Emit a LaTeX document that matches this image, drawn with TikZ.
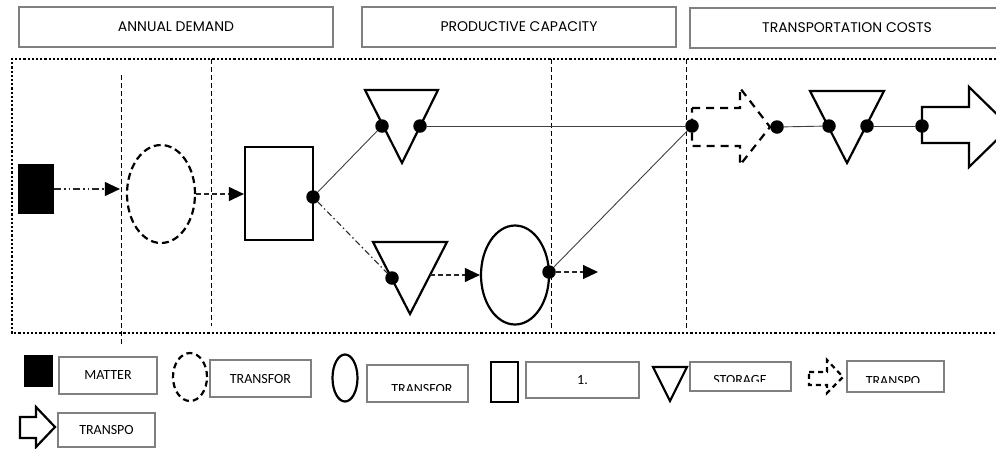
\documentclass[tikz,border=0pt]{standalone}
\usepackage{fontspec}
\setmainfont{Carlito}
\newfontfamily\gothic{Poppins}
\usetikzlibrary{arrows.meta,shapes.geometric}
\begin{document}
\begin{tikzpicture}[x=1pt,y=-1pt,
  thickshape/.style={draw=black,line width=2.2pt,line join=miter},
  dot/.style={circle,fill=black,inner sep=0pt,minimum size=13.5pt},
  headbox/.style={draw=black!50,line width=1.4pt,inner sep=0pt,font=\gothic\fontsize{14}{16}\selectfont},
  legbox/.style={draw=black!50,line width=1.4pt,inner sep=0pt,font=\fontsize{14}{16}\selectfont},
  legtext/.style={inner sep=0pt,font=\fontsize{14}{16}\selectfont},
  conn/.style={draw=black!75,line width=0.9pt},
  dashconn/.style={draw=black!85,line width=1.1pt,dash pattern=on 5pt off 3pt},
  dashdotconn/.style={draw=black!85,line width=1.1pt,dash pattern=on 6pt off 3pt on 1.5pt off 3pt},
  dashdotdotconn/.style={draw=black!85,line width=1.1pt,dash pattern=on 7pt off 3pt on 1.5pt off 3pt on 1.5pt off 3pt},
  tip/.style={-{Triangle[length=15pt,width=14pt,color=black]}},
  sepline/.style={draw=black,line width=0.9pt,dash pattern=on 5pt off 3pt},
  bigdash/.style={dash pattern=on 7pt off 4pt},
]
\useasboundingbox (0,0) rectangle (996,448);
\fill[white] (0,0) rectangle (996,448);
\begin{scope}
\clip (0,0) rectangle (996,448);

% header boxes
\node[headbox,minimum width=314pt,minimum height=40pt] (h1) at (176,27) {ANNUAL DEMAND};
\node[headbox,minimum width=314pt,minimum height=40pt] (h2) at (519,27) {PRODUCTIVE CAPACITY};
\draw[draw=black!50,line width=1.4pt] (1000,8) -- (690,8) -- (690,48) -- (1000,48);
\node[inner sep=0pt,font=\gothic\fontsize{14}{16}\selectfont] (h3) at (847,28) {TRANSPORTATION COSTS};

% outer dotted frame
\draw[line width=2.4pt,dash pattern=on 2.2pt off 2pt] (1000,59) -- (12,59) -- (12,333) -- (1000,333);

% vertical separators
\draw[sepline] (121,75) -- (121,345);
\draw[sepline] (211,59) -- (211,326);
\draw[sepline] (551,59) -- (551,330);
\draw[sepline] (686,59) -- (686,330);

% main shapes
\node[fill=black,minimum width=36pt,minimum height=50pt,inner sep=0pt] (sq) at (36,189) {};
\node[ellipse,thickshape,bigdash,minimum width=68pt,minimum height=98pt,inner sep=0pt] (e1) at (161,194) {};
\node[thickshape,minimum width=68pt,minimum height=93pt,inner sep=0pt] (r1) at (279,193.5) {};
\node[ellipse,thickshape,minimum width=68pt,minimum height=99pt,inner sep=0pt] (e2) at (515,275) {};

\draw[thickshape] (365,90) -- (438,90) -- (402,163) -- cycle;
\draw[thickshape] (373,242) -- (447,242) -- (410,314) -- cycle;
\draw[thickshape] (810,91) -- (884,91) -- (847,163) -- cycle;

\draw[thickshape,dash pattern=on 8pt off 6pt] (692,108) -- (740,108) -- (740,88) -- (770,127) -- (740,165) -- (740,146) -- (692,146) -- cycle;
\draw[thickshape] (922,107) -- (969,107) -- (969,87) -- (1010,127) -- (969,167) -- (969,143) -- (922,143) -- cycle;

% dots
\node[dot] (d1) at (313,197) {};
\node[dot] (d2) at (382,126) {};
\node[dot] (d3) at (420,126) {};
\node[dot] (d4) at (392,278) {};
\node[dot] (d5) at (549,272) {};
\node[dot] (d6) at (692,126) {};
\node[dot] (d7) at (777,127) {};
\node[dot] (d8) at (829,126) {};
\node[dot] (d9) at (867,126) {};
\node[dot] (d10) at (922,126) {};
\coordinate (t2r) at (430,275);
\coordinate (free) at (598,272);

% connectors
\draw[dashdotdotconn,tip,shorten >=6pt] (sq.east) -- (sq.east -| e1.west);
\draw[dashconn,tip] (e1.east) -- (e1.east -| r1.west);
\draw[conn] (d1) -- (d2);
\draw[conn] (d3) -- (d6);
\draw[dashdotconn] (d1) -- (d4);
\draw[dashconn,tip] (t2r) -- (t2r -| e2.west);
\draw[dashconn,tip] (d5) -- (free);
\draw[conn] (d5) -- (d6);
\draw[conn] (d7) -- (d8);
\draw[conn] (d9) -- (d10);

% legend
\node[fill=black,minimum width=29pt,minimum height=32pt,inner sep=0pt] (lsq) at (38.5,371) {};
\node[legbox,minimum width=98pt,minimum height=37pt] (l1) at (108,375.5) {MATTER};
\node[ellipse,thickshape,dash pattern=on 6pt off 4pt,minimum width=34pt,minimum height=48pt,inner sep=0pt] (le1) at (190,377) {};
\node[legbox,minimum width=101pt,minimum height=37pt] (l2) at (260.5,378.5) {TRANSFOR};
\node[ellipse,thickshape,minimum width=25pt,minimum height=47pt,inner sep=0pt] (le2) at (345,378) {};
\node[legbox,minimum width=101pt,minimum height=37pt] (l3) at (417.5,383.5) {};
\begin{scope}
\clip (367,365) rectangle (468,390);
\node[legtext,anchor=base] (l3t) at (422,393) {TRANSFOR};
\end{scope}
\node[thickshape,minimum width=27pt,minimum height=40pt,inner sep=0pt] (lr) at (504.5,382) {};
\node[legbox,minimum width=113pt,minimum height=36pt] (l4) at (582.5,380) {1.};
\draw[thickshape] (653,367) -- (687,367) -- (670,401) -- cycle;
\node[legbox,minimum width=101pt,minimum height=29pt] (l5) at (740.5,376.5) {};
\begin{scope}
\clip (690,362) rectangle (791,381);
\node[legtext,anchor=base] (l5t) at (740,384.5) {STORAGE};
\end{scope}
\draw[thickshape,dash pattern=on 5pt off 4pt] (809,372) -- (827,372) -- (827,360) -- (843,377) -- (827,393) -- (827,385) -- (809,385) -- cycle;
\node[legbox,minimum width=97pt,minimum height=31pt] (l6) at (895.5,376.5) {};
\begin{scope}
\clip (847,361) rectangle (944,382);
\node[legtext,anchor=base] (l6t) at (893,385.5) {TRANSPO};
\end{scope}
\draw[thickshape] (20,417) -- (36,417) -- (36,407) -- (55,427) -- (36,447) -- (36,438) -- (20,438) -- cycle;
\node[legbox,minimum width=97pt,minimum height=34pt] (l7) at (106.5,430) {TRANSPO};
\end{scope}
\end{tikzpicture}
\end{document}
